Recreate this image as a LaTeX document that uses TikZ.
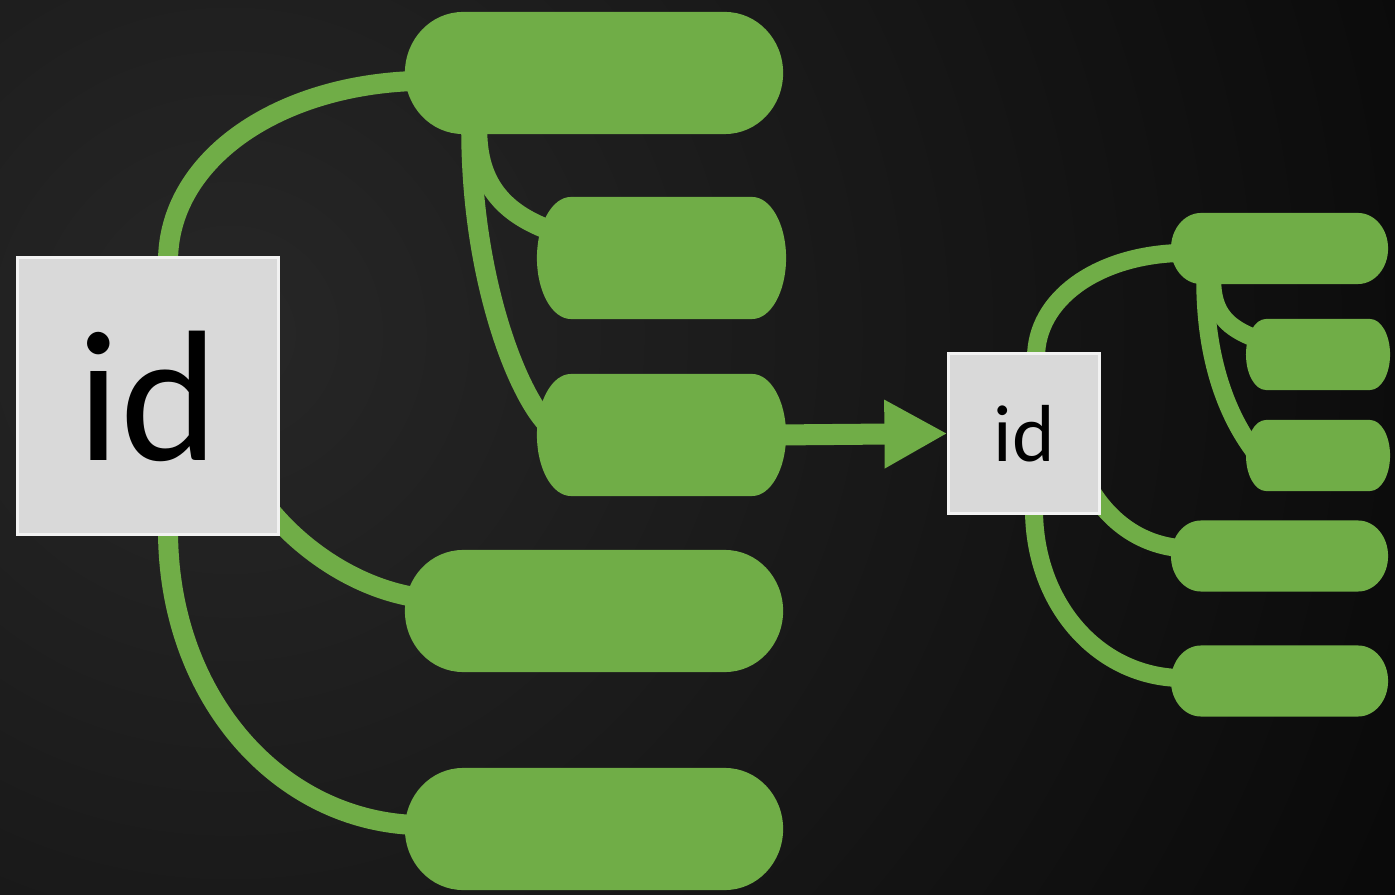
\documentclass[tikz,border=0pt]{standalone}
\usepackage{fontspec}
\setmainfont{Carlito}
\usepackage{tikz}
\usetikzlibrary{arrows.meta, backgrounds}

\definecolor{leaf}{HTML}{70AD47}
\definecolor{boxgray}{HTML}{D9D9D9}
\definecolor{boxedge}{HTML}{F2F2F2}
\definecolor{bgin}{HTML}{272727}

\tikzset{
  idbox/.style={rectangle, fill=boxgray, draw=boxedge, line width=0.03cm, inner sep=0pt},
  pill/.style n args={3}{rectangle, inner sep=0pt, minimum width=#1, minimum height=#2,
    path picture={\fill[leaf] ([xshift=#3]path picture bounding box.north west)
      arc[start angle=90, end angle=270, x radius=#3, y radius=#2/2]
      -- ([xshift=-#3]path picture bounding box.south east)
      arc[start angle=-90, end angle=90, x radius=#3, y radius=#2/2] -- cycle;}},
  link/.style={draw=leaf, line width=#1},
  link/.default=0.2cm
}

\begin{document}
\begin{tikzpicture}[x=0.01cm, y=0.01cm]
  \useasboundingbox (0,0) rectangle (1395,894);

  % Fondo
  \begin{scope}[on background layer]
    \clip (0,0) rectangle (1395,894);
    \shade[inner color=bgin, outer color=black] (230,560) circle (1700);
  \end{scope}

  % Cajas id
  \node[idbox, minimum width=2.6cm, minimum height=2.76cm, font=\fontsize{53}{53}\selectfont] (idl) at (148,498) {id};
  \node[idbox, minimum width=1.5cm, minimum height=1.59cm, font=\fontsize{23}{23}\selectfont] (idr) at (1024,460.5) {id};

  % Nodos de la izquierda
  \node[pill={3.78cm}{1.22cm}{0.58cm}] (la) at (594,821) {};
  \node[pill={2.49cm}{1.22cm}{0.34cm}] (lb) at (661.5,636) {};
  \node[pill={2.49cm}{1.22cm}{0.34cm}] (lc) at (661.5,459) {};
  \node[pill={3.78cm}{1.22cm}{0.58cm}] (ld) at (594,283) {};
  \node[pill={3.78cm}{1.22cm}{0.58cm}] (le) at (594,65) {};

  % Nodos de la derecha
  \node[pill={2.17cm}{0.71cm}{0.3cm}] (ra) at (1279.5,645.5) {};
  \node[pill={1.44cm}{0.71cm}{0.2cm}] (rb) at (1318,539.5) {};
  \node[pill={1.44cm}{0.71cm}{0.2cm}] (rc) at (1318,438.5) {};
  \node[pill={2.17cm}{0.71cm}{0.3cm}] (rd) at (1279.5,338) {};
  \node[pill={2.17cm}{0.71cm}{0.3cm}] (re) at (1279.5,213) {};

  % Conexiones
  \begin{scope}[on background layer]
    \draw[link] ([xshift=0.2cm,yshift=-0.05cm]idl.north) .. controls +(0,100) and +(-140,-5) .. ([xshift=0.1cm,yshift=-0.08cm]la.west);
    \draw[link] ([xshift=0.73cm,yshift=0.05cm]la.south west) .. controls +(0,-55) and +(-45,17) .. ([xshift=0.13cm,yshift=0.28cm]lb.west);
    \draw[link] ([xshift=0.67cm,yshift=0.05cm]la.south west) .. controls +(0,-145) and +(-32,34) .. ([xshift=0.11cm,yshift=0.11cm]lc.west);
    \draw[link] ([xshift=-0.175cm,yshift=0.355cm]idl.south east) .. controls +(30,-42) and +(-65,11) .. ([xshift=0.1cm,yshift=0.14cm]ld.west);
    \draw[link] ([xshift=0.2cm,yshift=0.05cm]idl.south) .. controls +(0,-163) and +(-139,6) .. ([xshift=0.1cm,yshift=0.04cm]le.west);

    \draw[link=0.21cm, -{Triangle[length=0.63cm, width=0.64cm]}] ([xshift=-0.1cm]lc.east) -- (idr.west);

    \draw[link=0.18cm] ([xshift=0.12cm,yshift=-0.05cm]idr.north) .. controls +(0,58) and +(-82,-3) .. ([xshift=0.08cm,yshift=-0.045cm]ra.west);
    \draw[link=0.18cm] ([xshift=0.42cm,yshift=0.04cm]ra.south west) .. controls +(0,-34) and +(-25,10) .. ([xshift=0.09cm,yshift=0.165cm]rb.west);
    \draw[link=0.18cm] ([xshift=0.35cm,yshift=0.04cm]ra.south west) .. controls +(0,-94) and +(-17,23) .. ([xshift=0.08cm,yshift=0.055cm]rc.west);
    \draw[link=0.18cm] ([xshift=-0.1cm,yshift=0.25cm]idr.south east) .. controls +(15,-25) and +(-45,5) .. ([xshift=0.08cm,yshift=0.08cm]rd.west);
    \draw[link=0.18cm] ([xshift=0.1cm,yshift=0.05cm]idr.south) .. controls +(0,-93) and +(-82,3) .. ([xshift=0.08cm,yshift=0.03cm]re.west);
  \end{scope}
\end{tikzpicture}
\end{document}
